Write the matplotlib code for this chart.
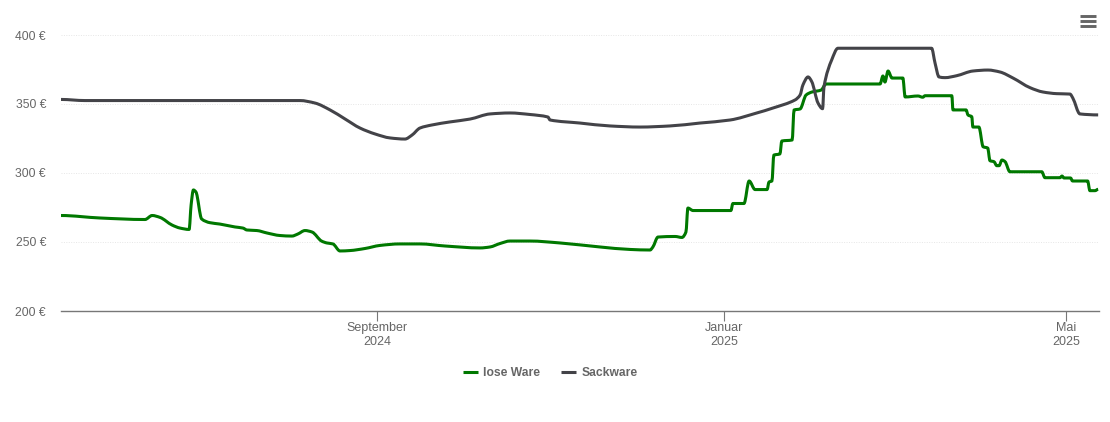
import matplotlib
matplotlib.use('Agg')
import matplotlib.pyplot as plt
import matplotlib.dates as mdates
from matplotlib.lines import Line2D
from matplotlib.patches import PathPatch
from matplotlib.path import Path
import numpy as np

plt.rcParams['font.family'] = ['Liberation Sans', 'DejaVu Sans']

# days counted from start_date
start_date = '2024-05-13'

days_lose = [0, 13.7, 29.5, 32, 34.8, 39, 41.8, 45, 45.7, 46.5, 47.4, 49.4, 52.3, 55.8, 61.1, 63.9, 65.3, 68.8,
             72.4, 76.9, 81.1, 83.2, 85.7, 88.2, 91.5, 93.4, 95.5, 98, 101.5, 106.8, 112, 119, 126.1, 134.9,
             147.2, 150.7, 154.2, 157.7, 164.7, 175.3, 189.3, 199.9, 206.9, 207.9, 209.7, 215.7, 218.1, 219.5,
             220.2, 222, 235.3, 236, 239.9, 241.7, 243.8, 248, 248.7, 249.7, 250.4, 252.5, 253.2, 256.8, 257.5,
             259.6, 261.7, 263.8, 267, 268.7, 287.7, 288.7, 289.4, 290.5, 291.9, 295.7, 296.5, 301, 302.7, 303.5,
             312.9, 313.3, 317.9, 318.6, 319.9, 320.3, 322.4, 323.9, 325.5, 326.3, 327.7, 328.7, 329.5, 330.5,
             331.6, 333.3, 344.5, 345.6, 350.9, 351.6, 352.3, 354.6, 355.3, 360.6, 361.4, 363.2, 364.3]
price_lose = [269.2, 267.4, 266.3, 269.2, 267.8, 262.3, 260.1, 259.1, 276.8, 287.7, 286.2, 266.7, 264, 263, 260.9,
              260.1, 258.7, 258.3, 256.5, 254.7, 254.3, 255.8, 258.3, 257.2, 250.7, 249.3, 248.6, 243.5, 243.8,
              245.3, 247.5, 248.6, 248.6, 247.1, 245.7, 246.4, 248.9, 250.7, 250.7, 249.3, 246.4, 244.6, 244.2,
              246.4, 253.6, 254, 253.3, 257.2, 274.6, 272.8, 272.8, 277.9, 277.9, 294.2, 288, 288, 293.5, 294.2,
              313, 313.8, 323.2, 323.9, 345.7, 346.4, 356.5, 358.7, 360.1, 364.5, 364.5, 370.3, 365.9, 373.9,
              368.8, 368.8, 355.1, 355.8, 354.9, 356, 356, 345.7, 345.7, 342, 340.8, 333.3, 333.3, 319, 318.1,
              308.9, 308.2, 305.3, 305.3, 309.4, 308.2, 300.9, 300.9, 296.6, 296.6, 297.8, 296.4, 296.4, 294.2,
              294.2, 287.2, 287.2, 288.2]

days_sack = [0, 8.4, 83.9, 89.2, 94.5, 99.8, 105, 110.3, 115.6, 120.8, 123.3, 126.1, 130.3, 136.6, 143.7, 150.7,
             157.7, 164.7, 171, 171.8, 182.3, 192.8, 203.4, 213.9, 224.4, 235, 244.4, 250.1, 257.8, 259.6, 260.6,
             262.4, 263.7, 265.9, 267.5, 268, 270.7, 272.9, 305.8, 307, 308.4, 310.5, 314.6, 320.3, 325.6, 329.8,
             334.4, 340.4, 344.9, 349.7, 354.4, 355.4, 357.9, 364.3]
price_sack = [353.3, 352.5, 352.5, 350.7, 345.7, 339.1, 332.6, 328.3, 325.4, 324.6, 327.5, 332.6, 334.8, 337, 339.1,
              342.8, 343.5, 342.4, 340.6, 338.4, 336.2, 334.1, 333.3, 334.1, 336.2, 338.4, 343.5, 347.1, 352.9,
              356.5, 363.8, 369.6, 366.2, 350.7, 346.6, 362.5, 381.9, 390.4, 390.4, 379.7, 369.6, 369.1, 370.5,
              373.9, 374.6, 373.2, 368.8, 361.8, 358.7, 357.5, 357.2, 354.3, 342.8, 342.1]

y_ticks = [200, 250, 300, 350, 400]
x_tick_dates = ['2024-09-01', '2025-01-01', '2025-05-01']
x_tick_labels = ['September\n2024', 'Januar\n2025', 'Mai\n2025']

W, H = 1110, 422
text_col = '#666666'
green = '#007800'
dark = '#434348'


def spline_path(x, y):
    # bezier through the points, flat stretches stay flat (like the spline in the original chart)
    x = np.array(x, dtype=float)
    y = np.array(y, dtype=float)
    dx = np.diff(x)
    slope = np.diff(y) / dx
    tang = np.zeros(len(x))
    for i in range(1, len(x) - 1):
        if slope[i - 1] * slope[i] > 0:
            tang[i] = 2 * slope[i - 1] * slope[i] / (slope[i - 1] + slope[i])
    verts = [(x[0], y[0])]
    codes = [Path.MOVETO]
    for i in range(len(dx)):
        verts.append((x[i] + dx[i] / 3, y[i] + tang[i] * dx[i] / 3))
        verts.append((x[i + 1] - dx[i] / 3, y[i + 1] - tang[i + 1] * dx[i] / 3))
        verts.append((x[i + 1], y[i + 1]))
        codes += [Path.CURVE4, Path.CURVE4, Path.CURVE4]
    return Path(verts, codes)


fig = plt.figure(figsize=(W / 100, H / 100), dpi=100)
ax = fig.add_axes([61 / W, 1 - 311 / H, (1099 - 61) / W, (311 - 35) / H])

x0 = mdates.datestr2num(start_date)
for days, price, col in [(days_lose, price_lose, green), (days_sack, price_sack, dark)]:
    ax.add_patch(PathPatch(spline_path(x0 + np.array(days), price), fill=False, edgecolor=col, lw=2.2,
                           joinstyle='round', capstyle='butt', zorder=3))

ax.set_xlim(x0, x0 + (1099 - 61) / 2.847)
ax.set_ylim(200, 400)
ax.xaxis_date()

for s in ['top', 'left', 'right']:
    ax.spines[s].set_visible(False)
ax.spines['bottom'].set_color('#777777')
ax.spines['bottom'].set_linewidth(1.0)

ax.set_yticks(y_ticks)
ax.set_yticklabels(['%d €' % v for v in y_ticks], fontsize=8.7, color=text_col)
ax.tick_params(axis='y', length=0, pad=10.8)
ax.grid(axis='y', color='#e6e6e6', lw=0.7, ls=(0, (1, 1.5)))
ax.set_axisbelow(True)

ax.set_xticks(mdates.datestr2num(x_tick_dates))
ax.set_xticklabels(x_tick_labels, fontsize=9, color=text_col, linespacing=1.2)
ax.tick_params(axis='x', length=7, width=0.8, color='#777777', pad=1)

handles = [Line2D([], [], color=green, lw=2.2, solid_capstyle='butt'),
           Line2D([], [], color=dark, lw=2.2, solid_capstyle='butt')]
fig.legend(handles, ['lose Ware', 'Sackware'], loc='center', bbox_to_anchor=(550 / W, 1 - 373 / H), ncol=2,
           frameon=False, labelcolor=text_col, prop={'weight': 'bold', 'size': 8.7},
           handlelength=1.25, handletextpad=0.42, columnspacing=1.75)

# menu icon top right
for yy in [16.3, 21.3, 26.3]:
    fig.add_artist(Line2D([1080 / W, 1096 / W], [1 - yy / H, 1 - yy / H], color='#666666', lw=2.1,
                          solid_capstyle='butt'))

plt.savefig('out.png', dpi=100)
